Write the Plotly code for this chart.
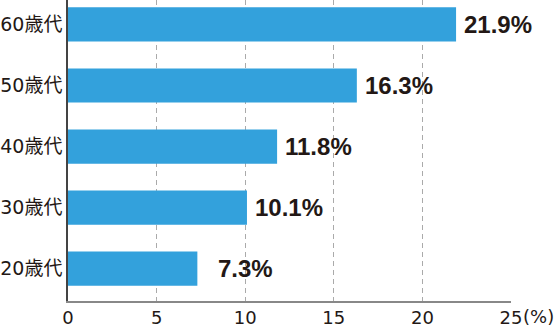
import plotly.graph_objects as go

categories = ["20歳代", "30歳代", "40歳代", "50歳代", "60歳代"]
values = [7.3, 10.1, 11.8, 16.3, 21.9]
value_labels = ["7.3%", "10.1%", "11.8%", "16.3%", "21.9%"]
x_ticks = [0, 5, 10, 15, 20, 25]
x_ticktext = ["0", "5", "10", "15", "20", "25"]

TEXT = "#231815"
BAR = "#33a1dc"

fig = go.Figure()
fig.add_trace(go.Bar(
    y=categories, x=values, orientation="h",
    marker=dict(color=BAR, line=dict(width=0)),
    width=0.56, hoverinfo="skip",
))

for c, v, t in zip(categories, values, value_labels):
    fig.add_annotation(
        x=v, y=c, xref="x", yref="y", text=t, showarrow=False,
        xanchor="left", yanchor="middle",
        xshift=6 + (13 if v < 10 else 0),
        font=dict(family="Liberation Sans, Arial", size=24, color=TEXT, weight="bold"),
    )

fig.add_annotation(
    x=25, y=0, xref="x", yref="paper", text="(%)", showarrow=False,
    xanchor="left", yanchor="middle", xshift=10, yshift=-15,
    font=dict(family="DejaVu Sans", size=18, color=TEXT),
)

fig.update_layout(
    width=560, height=330,
    margin=dict(l=68, r=49, t=0, b=29, pad=0),
    plot_bgcolor="white", paper_bgcolor="white",
    showlegend=False,
    xaxis=dict(
        range=[0, 25], tickvals=x_ticks, ticktext=x_ticktext,
        showgrid=True, gridcolor="#aaaaaa", gridwidth=1, griddash="5px,4px",
        zeroline=False, showline=True, linecolor="#888888", linewidth=1.5,
        ticks="", tickfont=dict(family="DejaVu Sans", size=18, color=TEXT),
        fixedrange=True,
    ),
    yaxis=dict(
        type="category", categoryorder="array", categoryarray=categories,
        range=[-0.53, 4.4], showgrid=False, zeroline=False,
        showline=True, linecolor="#444444", linewidth=1.5,
        ticks="", tickfont=dict(family="DejaVu Sans, Noto Sans CJK JP", size=19, color=TEXT),
        fixedrange=True,
    ),
)

fig.write_html("out.html")
